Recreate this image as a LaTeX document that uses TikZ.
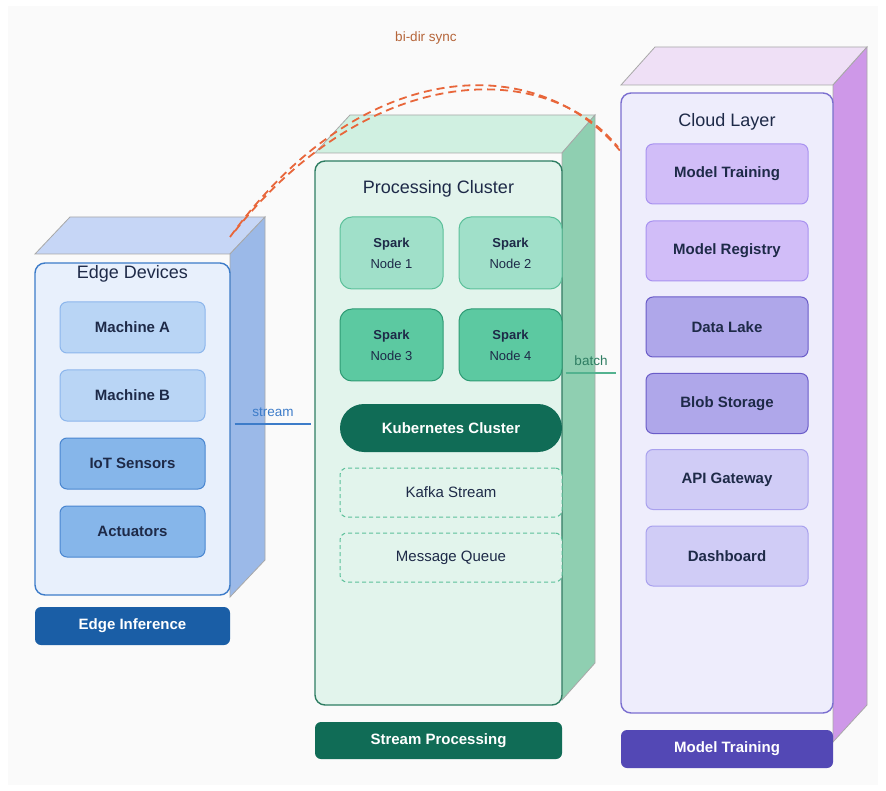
\documentclass[tikz,border=0pt]{standalone}
\usepackage{fontspec}
\setmainfont{Liberation Sans}
\usetikzlibrary{positioning}

\definecolor{bgc}{HTML}{FAFAFA}
\definecolor{facegray}{HTML}{A8A8A8}
\definecolor{inkc}{HTML}{1E2A48}
% edge colours
\definecolor{edgetop}{HTML}{C6D6F6}
\definecolor{edgeside}{HTML}{9BB9E8}
\definecolor{edgefront}{HTML}{E8F0FC}
\definecolor{edgeline}{HTML}{3D7CC9}
\definecolor{edgelite}{HTML}{B9D5F5}
\definecolor{edgelitel}{HTML}{8CB6EC}
\definecolor{edgemid}{HTML}{86B6EA}
\definecolor{edgemidl}{HTML}{4A86D0}
\definecolor{edgedark}{HTML}{1A5EA6}
% processing colours
\definecolor{proctop}{HTML}{D0F0E1}
\definecolor{procside}{HTML}{8FCFB1}
\definecolor{procfront}{HTML}{E2F4EC}
\definecolor{procline}{HTML}{2E7D62}
\definecolor{proclite}{HTML}{A0E0C9}
\definecolor{proclitel}{HTML}{5CC09A}
\definecolor{procmid}{HTML}{5CC9A1}
\definecolor{procmidl}{HTML}{2E9A74}
\definecolor{procdark}{HTML}{106C56}
% cloud colours
\definecolor{cloudtop}{HTML}{EFE0F6}
\definecolor{cloudside}{HTML}{CE98E8}
\definecolor{cloudfront}{HTML}{EEEDFC}
\definecolor{cloudline}{HTML}{7B6FD0}
\definecolor{cloudlite}{HTML}{D1BDF8}
\definecolor{cloudlitel}{HTML}{A892F0}
\definecolor{cloudmid}{HTML}{AFA7EA}
\definecolor{cloudmidl}{HTML}{6A5CC8}
\definecolor{cloudpale}{HTML}{D0CCF6}
\definecolor{cloudpalel}{HTML}{A9A1EE}
\definecolor{clouddark}{HTML}{5348B5}
\definecolor{syncc}{HTML}{E8663A}
\definecolor{synctext}{HTML}{B5653A}

\tikzset{
  face/.style={draw=facegray, line width=0.8pt},
  front/.style={draw, rounded corners=10pt, line width=1.4pt, inner sep=0pt},
  ttl/.style={font=\fontsize{18}{21}\selectfont, text=inkc},
  box/.style={draw, rounded corners=7pt, line width=1pt, inner sep=0pt,
    font=\fontsize{15}{18}\selectfont\bfseries, text=inkc},
  tag/.style={rounded corners=6pt, inner sep=0pt, text=white,
    font=\fontsize{15}{18}\selectfont\bfseries},
  lnk/.style={font=\fontsize{13.5}{16}\selectfont}
}

\begin{document}
\begin{tikzpicture}[x=1pt,y=-1pt]

  \useasboundingbox (0,0) rectangle (886,791);
  \fill[bgc] (8,6) rectangle (878,785);

  % edge block
  \filldraw[face,fill=edgetop] (35,254) -- (70,217) -- (265,217) -- (230,254) -- cycle;
  \filldraw[face,fill=edgeside] (230,254) -- (265,217) -- (265,560) -- (230,597) -- cycle;
  \node[front,draw=edgeline,fill=edgefront,minimum width=195pt,minimum height=332pt] (edge) at (132.5,429) {};
  \node[ttl] (edgettl) at (132.5,274) {Edge Devices};
  \foreach \y/\t/\n/\c in {327.5/Machine A/macha/lite, 395.5/Machine B/machb/lite,
                           463.5/IoT Sensors/iot/mid, 531.5/Actuators/act/mid} {
    \node[box,fill=edge\c,draw=edge\c l,minimum width=145pt,minimum height=51pt] (\n) at (132.5,\y) {\t};
  }
  \node[tag,fill=edgedark,minimum width=195pt,minimum height=38pt] (edgetag) at (132.5,626) {Edge Inference};

  % processing block
  \filldraw[face,fill=proctop] (315,153) -- (350,115) -- (595,115) -- (562,153) -- cycle;
  \filldraw[face,fill=procside] (562,153) -- (595,115) -- (595,663) -- (562,700) -- cycle;
  \node[front,draw=procline,fill=procfront,minimum width=247pt,minimum height=544pt] (proc) at (438.5,433) {};
  \node[ttl] (procttl) at (438.5,189) {Processing Cluster};
  \foreach \x/\y/\k/\c in {391.5/253/1/lite, 510.5/253/2/lite, 391.5/345/3/mid, 510.5/345/4/mid} {
    \node[box,rounded corners=12pt,fill=proc\c,draw=proc\c l,minimum width=103pt,minimum height=72pt,
          align=center,font=\fontsize{13}{16}\selectfont] (spark\k) at (\x,\y)
          {\textbf{Spark}\\[5pt]Node \k};
  }
  \node[tag,rounded corners=24pt,fill=procdark,minimum width=222pt,minimum height=48pt] (kube) at (451,428) {Kubernetes Cluster};
  \node[box,draw=proclitel,fill=procfront,dash pattern=on 4pt off 3pt,line width=1pt,
        font=\fontsize{15}{18}\selectfont,minimum width=222pt,minimum height=49pt] (kafka) at (451,492.5) {Kafka Stream};
  \node[box,draw=proclitel,fill=procfront,dash pattern=on 4pt off 3pt,line width=1pt,
        font=\fontsize{15}{18}\selectfont,minimum width=222pt,minimum height=49pt] (msgq) at (451,557.5) {Message Queue};
  \node[tag,fill=procdark,minimum width=247pt,minimum height=37pt] (proctag) at (438.5,740.5) {Stream Processing};

  % cloud block
  \filldraw[face,fill=cloudtop] (621,85) -- (655,47) -- (867,47) -- (833,85) -- cycle;
  \filldraw[face,fill=cloudside] (833,85) -- (867,47) -- (867,705) -- (833,742) -- cycle;
  \node[front,draw=cloudline,fill=cloudfront,minimum width=212pt,minimum height=620pt] (cloud) at (727,403) {};
  \node[ttl] (cloudttl) at (727,122) {Cloud Layer};
  \foreach \y/\t/\n/\c in {174/Model Training/train/lite, 251/Model Registry/reg/lite,
                           327/Data Lake/lake/mid, 403.5/Blob Storage/blob/mid,
                           479.5/API Gateway/api/pale, 556/Dashboard/dash/pale} {
    \node[box,fill=cloud\c,draw=cloud\c l,minimum width=162pt,minimum height=60pt] (\n) at (727,\y) {\t};
  }
  \node[tag,fill=clouddark,minimum width=212pt,minimum height=38pt] (cloudtag) at (727,749) {Model Training};

  % links
  \coordinate (sy) at (0,424);
  \coordinate (by) at (0,373);
  \draw[edgeline,line width=2pt] ([xshift=4pt]edge.east |- sy) -- ([xshift=-3pt]proc.west |- sy)
    node[lnk,midway,above=3pt] (streamlbl) {stream};
  \draw[proclitel!80!procline,line width=2pt] ([xshift=3pt]proc.east |- by) -- ([xshift=-4pt]cloud.west |- by)
    node[lnk,text=procline,midway,above=3pt] (batchlbl) {batch};

  \coordinate (synca) at (230,237);
  \coordinate (syncb) at (621,152);
  \coordinate (syncc) at (235,231);
  \coordinate (syncd) at (618,147);
  \draw[syncc,line width=1.8pt,dash pattern=on 8pt off 5pt]
    (synca) .. controls (365,52) and (540,52) .. (syncb);
  \draw[syncc,line width=1.8pt,dash pattern=on 8pt off 5pt]
    (syncc) .. controls (370,62) and (545,58) .. (syncd);
  \node[lnk,text=synctext] (synclbl) at (426,38) {bi-dir sync};

\end{tikzpicture}
\end{document}
